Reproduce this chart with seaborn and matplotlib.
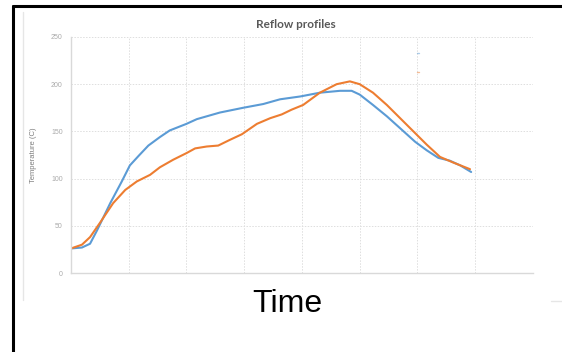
import pandas as pd
import matplotlib.pyplot as plt
import seaborn as sns
from matplotlib.lines import Line2D

# ===== data (time in grid units) =====
time_a = [0, 0.19, 0.33, 0.45, 0.68, 0.88, 1.02, 1.17, 1.34, 1.54, 1.71, 2.0, 2.18, 2.58,
          2.98, 3.33, 3.62, 3.97, 4.31, 4.66, 4.86, 5.0, 5.23, 5.47, 5.67, 5.96, 6.16,
          6.36, 6.56, 6.74, 6.93]
temp_a = [26, 27, 31, 45, 74, 97, 114, 124, 135, 144, 151, 158, 163, 170,
          175, 179, 184, 187, 191, 193, 193, 189, 178, 166, 155, 139, 130,
          122, 119, 114, 107]

time_b = [0, 0.19, 0.33, 0.5, 0.73, 0.94, 1.14, 1.37, 1.54, 1.77, 2.0, 2.15, 2.35, 2.55,
          2.75, 2.96, 3.22, 3.45, 3.65, 3.82, 4.02, 4.31, 4.6, 4.83, 5.0, 5.23, 5.47,
          5.7, 5.93, 6.16, 6.39, 6.62, 6.91]
temp_b = [26, 30, 38, 53, 74, 88, 97, 104, 112, 120, 127, 132, 134, 135,
          141, 147, 158, 164, 168, 173, 178, 191, 200, 203, 200, 191, 178,
          164, 150, 136, 123, 117, 110]

series_names = ["Profile 1", "Profile 2"]
y_ticks = [0, 50, 100, 150, 200, 250]

df = pd.concat([
    pd.DataFrame({"time": time_a, "temp": temp_a, "profile": series_names[0]}),
    pd.DataFrame({"time": time_b, "temp": temp_b, "profile": series_names[1]}),
])

# ===== figure =====
sns.set_style("white")
plt.rcParams["font.family"] = ["Liberation Sans", "DejaVu Sans"]

fig = plt.figure(figsize=(5.62, 3.52), dpi=100)
ax = fig.add_axes([0.1263, 0.2244, 0.822, 0.6705])

sns.lineplot(data=df, x="time", y="temp", hue="profile", sort=False,
             palette=["#5B9BD5", "#ED7D31"], linewidth=1.5, legend=False, ax=ax)

ax.set_xlim(0, 8)
ax.set_ylim(0, 250)
ax.set_xticks(range(0, 9))
ax.set_yticks(y_ticks)
ax.set_xticklabels([])
ax.grid(True, color="#DEDEDE", linestyle=(0, (1.5, 1.5)), linewidth=0.7)
ax.tick_params(axis="y", labelsize=5, colors="#AAAAAA", length=0, pad=6)
ax.tick_params(axis="x", length=0)
for side in ["top", "right"]:
    ax.spines[side].set_visible(False)
for side in ["left", "bottom"]:
    ax.spines[side].set_color("#D9D9D9")
    ax.spines[side].set_linewidth(1.0)

ax.set_xlabel("")
ax.set_ylabel("Temperature (C)", fontsize=5.5, color="#7F7F7F", labelpad=10)

fig.text(0.527, 0.929, "Reflow profiles", ha="center", va="center",
         fontsize=8.5, fontweight="bold", color="#595959", family=["Lato", "DejaVu Sans"])
fig.text(0.511, 0.113, "Time", ha="center", va="baseline", fontsize=23, color="black")

# outer frame pieces
fig.add_artist(Line2D([13 / 562, 1], [1 - 6 / 352, 1 - 6 / 352], color="black", linewidth=2.2))
fig.add_artist(Line2D([13 / 562, 13 / 562], [0, 1 - 6 / 352], color="black", linewidth=2.2))
fig.add_artist(Line2D([23 / 562, 23 / 562], [1 - 300 / 352, 1 - 12 / 352], color="#E6E6E6", linewidth=1))
fig.add_artist(Line2D([551 / 562, 1], [1 - 301 / 352, 1 - 301 / 352], color="#E6E6E6", linewidth=1))

# tiny legend remnants
fig.add_artist(Line2D([417 / 562, 419 / 562], [1 - 53 / 352, 1 - 53 / 352], color="#5B9BD5", linewidth=1, alpha=0.5))
fig.add_artist(Line2D([417 / 562, 419 / 562], [1 - 72 / 352, 1 - 72 / 352], color="#ED7D31", linewidth=1, alpha=0.5))

fig.savefig("out.png", dpi=100)
